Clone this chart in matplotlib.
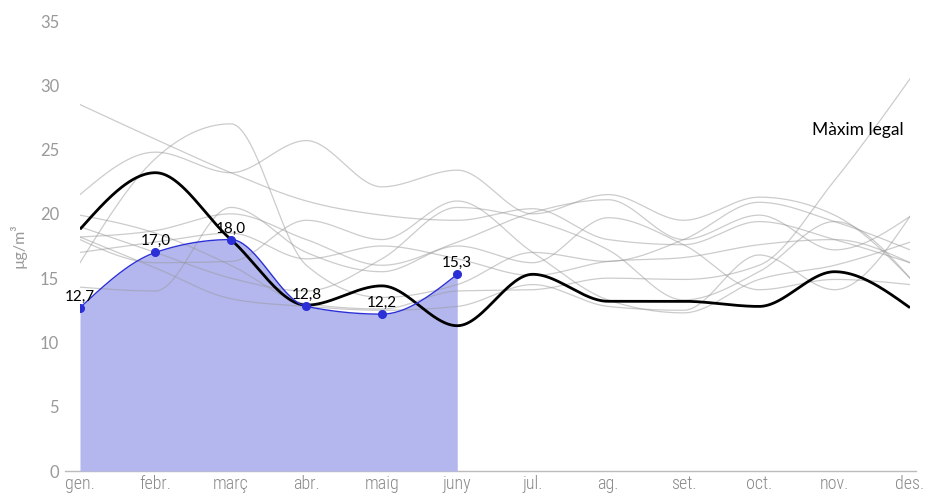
import numpy as np
import matplotlib
matplotlib.use("Agg")
import matplotlib.pyplot as plt

# --- dades ---
mesos = ["gen.", "febr.", "març", "abr.", "maig", "juny",
         "jul.", "ag.", "set.", "oct.", "nov.", "des."]

# any actual (només fins a juny)
actual = [12.7, 17.0, 18.0, 12.8, 12.2, 15.3]

# mitjana (línia negra)
mitjana = [18.8, 23.2, 18.0, 12.9, 14.4, 11.3, 15.3, 13.2, 13.2, 12.8, 15.5, 12.7]

# anys anteriors (línies grises)
anys_a = [28.5, 25.8, 23.2, 21.0, 19.9, 19.5, 20.4, 18.0, 17.6, 19.4, 18.0, 16.2]
anys_b = [16.2, 24.3, 27.0, 16.0, 13.5, 14.5, 17.0, 16.3, 18.0, 20.9, 19.4, 17.2]
anys_c = [21.5, 24.8, 23.2, 25.7, 22.1, 23.4, 20.0, 21.5, 19.5, 21.3, 19.9, 15.0]
anys_d = [19.9, 18.5, 16.0, 13.0, 12.6, 14.0, 14.1, 15.0, 14.9, 16.0, 22.6, 30.5]
anys_e = [18.2, 18.7, 20.0, 18.0, 16.0, 17.8, 20.1, 21.1, 18.0, 19.9, 17.2, 19.8]
anys_f = [18.0, 16.2, 16.3, 19.5, 18.0, 21.0, 17.0, 13.3, 12.3, 14.9, 16.0, 17.8]
anys_g = [18.2, 15.8, 13.4, 12.8, 12.5, 12.8, 14.5, 12.8, 12.5, 16.8, 14.1, 19.8]
anys_h = [14.3, 14.0, 20.5, 17.0, 15.5, 17.5, 16.2, 19.7, 17.6, 14.1, 14.9, 14.5]
anys_i = [17.0, 17.8, 18.5, 16.5, 17.5, 16.5, 15.2, 16.3, 16.6, 17.6, 18.0, 16.2]
anys_j = [19.0, 17.0, 15.0, 14.0, 16.5, 20.5, 19.5, 17.2, 13.3, 15.5, 19.4, 15.0]
anteriors = [anys_a, anys_b, anys_c, anys_d, anys_e, anys_f,
             anys_g, anys_h, anys_i, anys_j]


def monotone(y, n=60):
    # corba monòtona tipus d3.curveMonotoneX
    y = np.asarray(y, dtype=float)
    x = np.arange(len(y), dtype=float)
    s = np.diff(y)
    t = np.zeros(len(y))
    for i in range(1, len(y) - 1):
        s0, s1 = s[i - 1], s[i]
        p = (s0 + s1) / 2
        t[i] = (np.sign(s0) + np.sign(s1)) * min(abs(s0), abs(s1), 0.5 * abs(p))
    if len(y) > 2:
        t[0] = (3 * s[0] - t[1]) / 2
        t[-1] = (3 * s[-1] - t[-2]) / 2
    else:
        t[:] = s[0]
    xs, ys = [], []
    for i in range(len(y) - 1):
        u = np.linspace(0, 1, n, endpoint=(i == len(y) - 2))
        h00 = 2 * u**3 - 3 * u**2 + 1
        h10 = u**3 - 2 * u**2 + u
        h01 = -2 * u**3 + 3 * u**2
        h11 = u**3 - u**2
        xs.append(x[i] + u)
        ys.append(h00 * y[i] + h10 * t[i] + h01 * y[i + 1] + h11 * t[i + 1])
    return np.concatenate(xs), np.concatenate(ys)


fig = plt.figure(figsize=(9.27, 4.97), dpi=100)
ax = fig.add_axes([80 / 927, 1 - 471 / 497, 830 / 927, 450 / 497])
ax.set_xlim(0, 11)
ax.set_ylim(0, 35)

blau = "#2b2fd6"

# àrea any actual
xa, ya = monotone(actual)
ax.fill_between(xa, 0, ya, color="#b3b7ee", lw=0, zorder=1)

# anys anteriors
for serie in anteriors:
    xs, ys = monotone(serie)
    ax.plot(xs, ys, color="#999999", alpha=0.5, lw=0.9, zorder=2)

# mitjana
xm, ym = monotone(mitjana)
ax.plot(xm, ym, color="black", lw=2.0, zorder=3, solid_capstyle="butt")

# línia i punts any actual
ax.plot(xa, ya, color=blau, lw=1.0, zorder=4)
ax.plot(range(len(actual)), actual, "o", color=blau, ms=5.5, zorder=5)
for i, v in enumerate(actual):
    ax.annotate(f"{v:.1f}".replace(".", ","), (i, v), xytext=(0, 3),
                textcoords="offset points", ha="center", va="bottom",
                fontsize=11, family="Lato", color="black", zorder=6)

ax.text(0.992, 0.758, "Màxim legal", transform=ax.transAxes, ha="right",
        va="center", fontsize=12.5, family="Lato", color="black")

# eixos
for sp in ax.spines.values():
    sp.set_visible(False)
ax.axhline(0, xmin=-15 / 830, xmax=1 + 6 / 830, color="#bbbbbb", lw=1.0,
           clip_on=False, zorder=0)

ax.set_yticks(range(0, 36, 5))
ax.set_xticks(range(12))
ax.set_xticklabels(mesos, family=["Roboto Condensed", "Liberation Sans Narrow",
                                  "Roboto"],
                   fontsize=13, fontweight="light", color="#8a8a8a")
for lab in ax.get_yticklabels():
    lab.set_family("Lato")
ax.tick_params(axis="y", length=0, pad=15, labelsize=12, labelcolor="#999999")
ax.tick_params(axis="x", length=0, pad=3)
ax.set_ylabel("µg/m³", family="Lato", fontsize=11.5, color="#999999",
              labelpad=10)

fig.savefig("out.png", dpi=100)
